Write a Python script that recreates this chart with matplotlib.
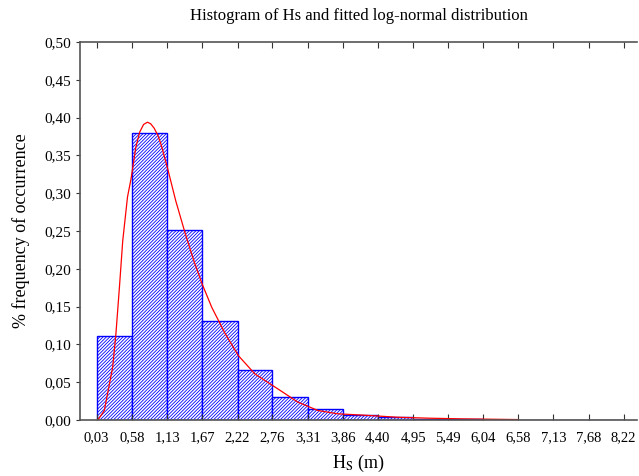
import matplotlib
matplotlib.use("Agg")
import matplotlib.pyplot as plt
import numpy as np

plt.rcParams['font.family'] = ['Liberation Serif', 'DejaVu Serif']
plt.rcParams['mathtext.fontset'] = 'stix'
plt.rcParams['hatch.linewidth'] = 0.6
plt.rcParams['hatch.color'] = '#3333ff'

# bin edges (Hs, m) and relative frequencies
edges = [0.03, 0.58, 1.13, 1.67, 2.22, 2.76, 3.31, 3.86, 4.40, 4.95, 5.49, 6.04, 6.58, 7.13, 7.68, 8.22]
edge_labels = ["0,03", "0,58", "1,13", "1,67", "2,22", "2,76", "3,31", "3,86", "4,40",
               "4,95", "5,49", "6,04", "6,58", "7,13", "7,68", "8,22"]
freq = [0.111, 0.380, 0.251, 0.131, 0.066, 0.031, 0.015, 0.007, 0.004, 0.002, 0.001, 0.0005, 0, 0, 0]

# fitted log-normal curve
curve_x = [0.05, 0.15, 0.28, 0.33, 0.385, 0.436, 0.51, 0.565, 0.64, 0.70, 0.76, 0.82, 0.87,
           0.925, 0.98, 1.03, 1.13, 1.26, 1.41, 1.54, 1.67, 1.82, 2.03, 2.235, 2.49, 2.85,
           3.16, 3.47, 3.78, 4.19, 4.70, 5.21, 5.73, 6.50, 6.58]
curve_y = [0.0, 0.0126, 0.07, 0.114, 0.176, 0.237, 0.295, 0.319, 0.361, 0.381, 0.391, 0.394,
           0.392, 0.386, 0.377, 0.365, 0.334, 0.29, 0.246, 0.211, 0.18, 0.149, 0.114, 0.085,
           0.061, 0.041, 0.0236, 0.0126, 0.0082, 0.0064, 0.0037, 0.0024, 0.0015, 0.0007, 0.0006]

fig = plt.figure(figsize=(6.39, 4.76), dpi=100)
ax = fig.add_axes([0.125, 0.1176, 0.872, 0.794])

widths = np.diff(edges)
ax.bar(edges[:-1], freq, width=widths, align='edge', facecolor='white',
       edgecolor='blue', hatch='//////////', linewidth=1.0)
ax.plot(curve_x, curve_y, color='red', linewidth=0.9)

ax.set_xlim(-0.23, 8.43)
ax.set_ylim(0, 0.5)
ax.set_xticks(edges)
ax.set_xticklabels(edge_labels, fontsize=10.5)
yt = np.arange(0, 0.51, 0.05)
ax.set_yticks(yt)
ax.set_yticklabels([("%.2f" % v).replace(".", ",") for v in yt], fontsize=11)

ax.spines['right'].set_visible(False)
for s in ['left', 'top', 'bottom']:
    ax.spines[s].set_color('#555555')
    ax.spines[s].set_linewidth(1.2)
ax.tick_params(axis='x', direction='in', length=4, top=True, color='#333333', pad=8)
ax.tick_params(axis='y', direction='out', length=3, color='#333333')

ax.set_title("Histogram of Hs and fitted log-normal distribution", fontsize=12, pad=16)
ax.set_xlabel(r"H$_\mathrm{S}$ (m)", fontsize=13, labelpad=6)
ax.set_ylabel("% frequency of occurrence", fontsize=13, labelpad=10)

fig.savefig("out.png", dpi=100)
